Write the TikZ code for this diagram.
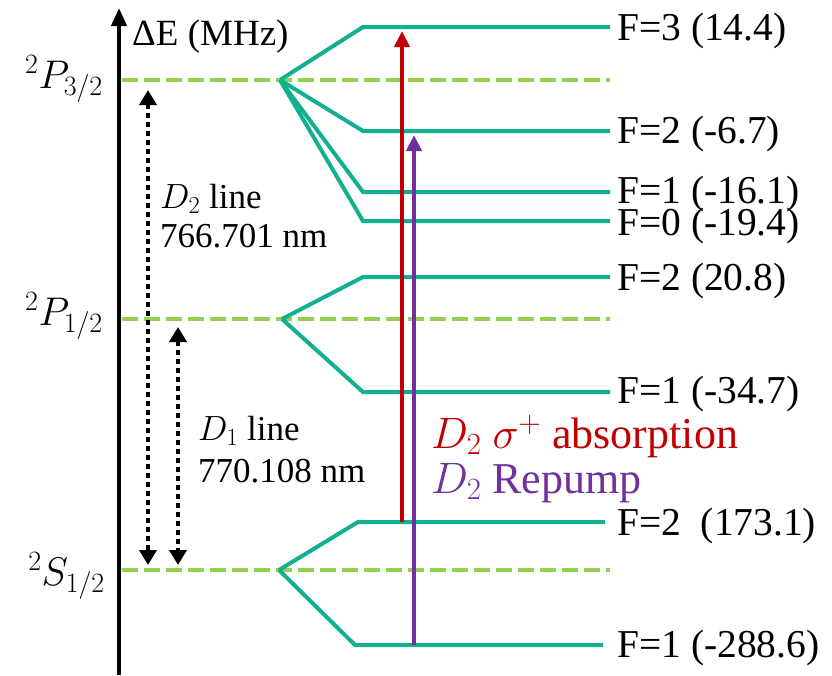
\documentclass[tikz,border=0pt]{standalone}
\usepackage{fix-cm}
\usepackage{fontspec}
\setmainfont{Liberation Serif}
\usetikzlibrary{arrows.meta}
\definecolor{levelteal}{RGB}{16,176,144}
\definecolor{finegreen}{RGB}{146,208,80}
\definecolor{absred}{RGB}{192,0,0}
\definecolor{reppurple}{RGB}{112,48,160}
\begin{document}
\begin{tikzpicture}[x=1pt,y=-1pt,
  hfs/.style={levelteal,line width=4pt,line join=miter},
  finelvl/.style={finegreen,line width=4pt,dash pattern=on 16pt off 6pt},
  flabel/.style={anchor=base west,inner sep=0pt,font=\fontsize{39.5}{44}\selectfont},
  termlabel/.style={anchor=base east,inner sep=0pt,font=\fontsize{40}{44}\selectfont},
  linetext/.style={anchor=base west,inner sep=0pt,font=\fontsize{35}{38}\selectfont},
  lasertext/.style={anchor=base west,inner sep=0pt,font=\fontsize{44}{48}\selectfont},
  dotarrow/.style={line width=4.5pt,dash pattern=on 4.5pt off 4.5pt,
     {Triangle[width=17pt,length=15pt]}-{Triangle[width=17pt,length=15pt]}},
  laser/.style={line width=4pt,-{Triangle[width=15pt,length=16pt]}}]
\useasboundingbox (0,0) rectangle (832,675);

% energy axis
\coordinate (axbot) at (119,675);
\coordinate (axtop) at (119,8);
\draw[line width=4pt,-{Triangle[width=15pt,length=18pt]}] (axbot) -- (axtop);
\node[anchor=base west,inner sep=0pt,font=\fontsize{37}{40}\selectfont] (axlab) at (132,45) {ΔE (MHz)};

% fine structure levels (dashed)
\coordinate (p32a) at (122,80);  \coordinate (p32b) at (610,80);
\coordinate (p12a) at (122,319); \coordinate (p12b) at (610,319);
\coordinate (s12a) at (122,570); \coordinate (s12b) at (610,570);
\draw[finelvl] (p32a) -- (p32b);
\draw[finelvl] (p12a) -- (p12b);
\draw[finelvl] (s12a) -- (s12b);

\node[termlabel] (tp32) at (103,88) {$^2P_{3/2}$};
\node[termlabel] (tp12) at (103,325) {$^2P_{1/2}$};
\node[termlabel] (ts12) at (105,585) {$^2S_{1/2}$};

% hyperfine splitting P3/2
\coordinate (vp32) at (280,80);
\draw[hfs] (vp32) -- (363,27)  -- (610,27);
\draw[hfs] (vp32) -- (363,131) -- (610,131);
\draw[hfs] (vp32) -- (363,192) -- (610,192);
\draw[hfs] (vp32) -- (363,221) -- (610,221);
% P1/2
\coordinate (vp12) at (282,319);
\draw[hfs] (vp12) -- (363,277) -- (610,277);
\draw[hfs] (vp12) -- (363,392) -- (610,392);
% S1/2
\coordinate (vs12) at (279,570);
\draw[hfs] (vs12) -- (358,522) -- (605,522);
\draw[hfs] (vs12) -- (355,645) -- (603,645);

% hyperfine labels
\node[flabel] (f3)  at (617,40)  {F=3 (14.4)};
\node[flabel] (f2a) at (617,143) {F=2 (-6.7)};
\node[flabel] (f1a) at (617,203) {F=1 (-16.1)};
\node[flabel] (f0a) at (617,235) {F=0 (-19.4)};
\node[flabel] (f2b) at (617,290) {F=2 (20.8)};
\node[flabel] (f1b) at (617,403) {F=1 (-34.7)};
\node[flabel] (f2c) at (617,535) {F=2\ \ (173.1)};
\node[flabel] (f1c) at (617,657) {F=1 (-288.6)};

% laser transitions
\coordinate (redbot) at (402,522);
\coordinate (redtop) at (402,31);
\coordinate (purbot) at (414,645);
\coordinate (purtop) at (414,135);
\draw[laser,absred] (redbot) -- (redtop);
\draw[laser,reppurple] (purbot) -- (purtop);
\node[lasertext,text=absred] (abs) at (431,448) {$D_2\ \sigma^+$ absorption};
\node[lasertext,text=reppurple] (rep) at (431,493) {$D_2$ Repump};

% D lines
\coordinate (d2top) at (148,90);
\coordinate (d2bot) at (148,565);
\coordinate (d1top) at (178,327);
\coordinate (d1bot) at (178,565);
\draw[dotarrow] (d2top) -- (d2bot);
\draw[dotarrow] (d1top) -- (d1bot);
\node[linetext] (d2a) at (160,208) {$D_2$ line};
\node[linetext] (d2b) at (160,247) {766.701 nm};
\node[linetext] (d1a) at (198,440) {$D_1$ line};
\node[linetext] (d1b) at (198,482) {770.108 nm};
\end{tikzpicture}
\end{document}
